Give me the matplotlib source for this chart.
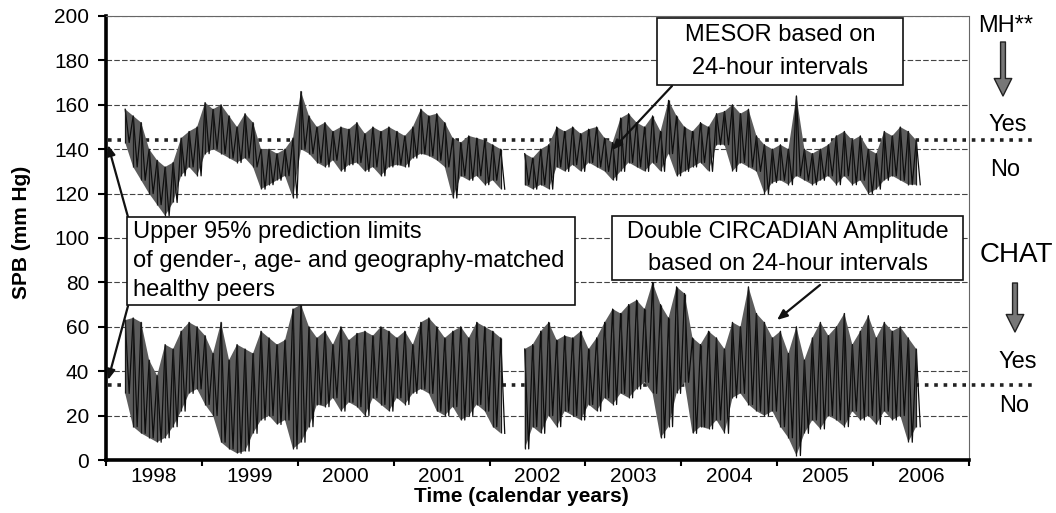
"""
Recreate: SPB MESOR and double circadian amplitude, 1998-2006,
with the upper 95% prediction limits of matched healthy peers.
"""
import numpy as np
import matplotlib
matplotlib.use("Agg")
import matplotlib.pyplot as plt
from matplotlib.patches import Rectangle

plt.rcParams["font.family"] = ["Liberation Sans", "DejaVu Sans"]

W, H = 1056, 513
START = 1998.2          # first monthly reading (late March 1998)
nan = np.nan

# ---------- monthly envelope (high, low), mm Hg ----------
mesor_hi = [158, 155, 152, 140, 135, 132, 134, 145, 148, 150,
            161, 158, 160, 155, 150, 156, 152, 140, 140, 138,
            140, 145, 166, 155, 150, 152, 148, 150, 149, 152,
            147, 150, 148, 150, 148, 146, 150, 158, 155, 156,
            152, 145, 143, 146, 145, 144, 142, 140, nan, nan,
            138, 136, 140, 142, 150, 148, 150, 147, 149, 150,
            145, 143, 154, 156, 152, 150, 155, 148, 162, 155,
            150, 148, 152, 150, 156, 157, 160, 156, 158, 146,
            142, 140, 142, 140, 164, 140, 138, 140, 142, 146,
            148, 144, 146, 140, 138, 148, 146, 150, 148, 144]
mesor_lo = [143, 132, 126, 120, 115, 110, 116, 128, 132, 128,
            138, 140, 138, 136, 134, 136, 132, 122, 124, 126,
            128, 118, 140, 138, 134, 132, 135, 130, 133, 134,
            130, 132, 128, 132, 133, 132, 136, 138, 137, 135,
            132, 118, 128, 126, 128, 124, 126, 122, nan, nan,
            124, 122, 124, 122, 132, 130, 133, 130, 134, 132,
            130, 126, 130, 134, 132, 130, 134, 130, 138, 128,
            130, 132, 134, 130, 142, 142, 130, 134, 132, 130,
            120, 125, 126, 124, 128, 126, 124, 126, 128, 124,
            128, 124, 126, 120, 122, 126, 128, 126, 124, 124]

amp_hi = [63, 64, 62, 45, 38, 52, 50, 58, 62, 60,
          56, 48, 62, 45, 52, 50, 48, 58, 55, 52,
          54, 68, 70, 60, 55, 58, 52, 60, 54, 57,
          58, 56, 60, 58, 55, 58, 52, 62, 64, 60,
          55, 58, 60, 55, 62, 60, 58, 55, nan, nan,
          50, 52, 58, 62, 54, 56, 55, 58, 50, 55,
          62, 68, 66, 70, 72, 68, 80, 70, 64, 78,
          75, 55, 52, 58, 55, 50, 62, 60, 78, 66,
          62, 55, 58, 48, 60, 45, 55, 62, 56, 60,
          66, 52, 58, 65, 55, 62, 58, 60, 55, 50]
amp_lo = [30, 15, 12, 10, 8, 10, 15, 22, 30, 32,
          25, 20, 8, 5, 3, 4, 12, 18, 20, 16,
          18, 5, 8, 15, 25, 24, 28, 22, 26, 24,
          20, 28, 25, 22, 28, 25, 30, 32, 30, 22,
          20, 24, 18, 20, 25, 22, 15, 12, nan, nan,
          5, 15, 12, 20, 15, 22, 20, 18, 25, 22,
          28, 25, 30, 28, 32, 35, 30, 10, 15, 30,
          35, 12, 15, 14, 18, 12, 28, 30, 25, 22,
          20, 22, 15, 10, 2, 12, 18, 14, 20, 18,
          15, 22, 18, 20, 16, 22, 18, 20, 8, 15]

MESOR_LIMIT = 144       # upper 95% prediction limit, MESOR
AMP_LIMIT = 34          # upper 95% prediction limit, double amplitude
years = list(range(1998, 2007))
yticks = list(range(0, 201, 20))


def px(x, y):
    """reference-image pixel -> figure fraction"""
    return x / W, 1 - y / H


fig = plt.figure(figsize=(W / 100, H / 100), dpi=100)
ax = fig.add_axes([106 / W, 1 - 460 / H, (969 - 106) / W, (460 - 16) / H])
ax.set_xlim(1998, 2007)
ax.set_ylim(0, 200)

# grid + frame
ax.set_yticks(yticks)
ax.yaxis.grid(True, color="#444", lw=0.8, ls=(0, (5, 2)))
ax.set_axisbelow(True)
for s in ("left", "bottom"):
    ax.spines[s].set_linewidth(2.6)
for s in ("top", "right"):
    ax.spines[s].set_linewidth(0.8)
    ax.spines[s].set_color("#666")
    ax.spines[s].set_linestyle((0, (2, 1)))

ax.set_xticks(years + [2007])
ax.set_xticklabels([])
ax.set_xticks([y + 0.5 for y in years], [str(y) for y in years], minor=True)
ax.tick_params(axis="x", which="major", length=4, width=1.5)
ax.tick_params(axis="x", which="minor", length=0, labelsize=15, pad=5)
ax.tick_params(axis="y", length=6, width=1.5, labelsize=15, pad=6)

# data: grey band between monthly highs and lows, swings in black on top
for hi, lo in ((mesor_hi, mesor_lo), (amp_hi, amp_lo)):
    hi, lo = np.array(hi, float), np.array(lo, float)
    t = START + np.arange(len(hi)) / 12
    ax.fill_between(t, lo, hi, color="#5c5c5c", lw=0, zorder=2)
    xs = np.column_stack([t, t + 1 / 24]).ravel()
    ys = np.column_stack([hi, lo]).ravel()
    ax.plot(xs, ys, color="#0d0d0d", lw=0.9, zorder=2.1)
    ax.vlines(t, lo, hi, color="#1a1a1a", lw=0.9, zorder=2.1)

# prediction limits (run out into the right margin)
for lim in (MESOR_LIMIT, AMP_LIMIT):
    ax.plot([1998.02, 2007.66], [lim, lim], color="#222", lw=2.6,
            ls=(0, (1, 1.6)), clip_on=False, zorder=1.5)

fig.text(*px(22, 232), "SPB (mm Hg)", rotation=90, ha="center", va="center",
         fontsize=15, fontweight="bold")
fig.text(*px(521, 496), "Time (calendar years)", ha="center", va="center",
         fontsize=15, fontweight="bold")

# annotation boxes
boxes = [
    ((657, 18, 903, 85), ["MESOR based on", "24-hour intervals"], "center"),
    ((127, 217, 575, 305), ["Upper 95% prediction limits",
                            "of gender-, age- and geography-matched",
                            "healthy peers"], "left"),
    ((612, 216, 963, 280), ["Double CIRCADIAN Amplitude",
                            "based on 24-hour intervals"], "center"),
]
for (x0, y0, x1, y1), lines, align in boxes:
    fig.add_artist(Rectangle(px(x0, y1), (x1 - x0) / W, (y1 - y0) / H,
                             transform=fig.transFigure, facecolor="white",
                             edgecolor="#111", lw=1.2, zorder=5))
    step = (y1 - y0) / len(lines)
    for i, s in enumerate(lines):
        yy = y0 + step * (i + 0.5)
        xx = (x0 + x1) / 2 if align == "center" else x0 + 6
        fig.text(*px(xx, yy), s, ha=align, va="center", fontsize=17, zorder=6)

arrows = [((672, 86), (612, 150)), ((820, 285), (777, 320)),
          ((128, 217), (108, 145)), ((128, 306), (108, 380))]
for (xa, ya), (xb, yb) in arrows:
    ax.annotate("", xy=(xb, H - yb), xytext=(xa, H - ya), xycoords="figure pixels",
                textcoords="figure pixels", annotation_clip=False, zorder=6,
                arrowprops=dict(arrowstyle="-|>,head_length=0.6,head_width=0.25",
                                color="#111", lw=1.6, shrinkA=0, shrinkB=0))

# right-hand verdicts
right = [("MH**", 1006, 26, 17), ("Yes", 1008, 125, 17), ("No", 1005, 170, 17),
         ("CHAT", 1016, 255, 20), ("Yes", 1018, 362, 17), ("No", 1014, 406, 17)]
for s, x, y, fs in right:
    fig.text(*px(x, y), s, ha="center", va="center", fontsize=fs)
for x, ya, yb in ((1003, 42, 96), (1015, 283, 332)):
    ax.annotate("", xy=(x, H - yb), xytext=(x, H - ya), xycoords="figure pixels",
                textcoords="figure pixels", annotation_clip=False,
                arrowprops=dict(arrowstyle="simple,head_length=0.9,head_width=0.9,tail_width=0.25",
                                facecolor="#777", edgecolor="#222", lw=1,
                                shrinkA=0, shrinkB=0, mutation_scale=14))

fig.savefig("out.png", dpi=100)
